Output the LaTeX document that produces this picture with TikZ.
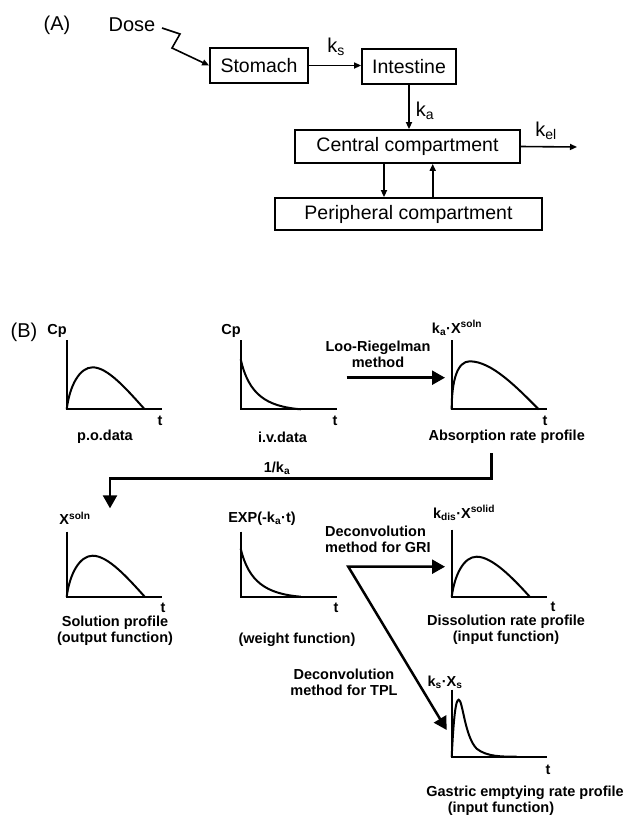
\documentclass[tikz,border=0pt]{standalone}
\usepackage{fontspec}
\setmainfont{Liberation Sans}
\usetikzlibrary{arrows.meta}
\begin{document}
\begin{tikzpicture}[x=1pt,y=-1pt,
  box/.style={draw,line width=1.8pt,inner sep=0pt,font=\fontsize{19.5}{22}\selectfont},
  alabel/.style={inner sep=0pt,font=\fontsize{20}{23}\selectfont},
  blabel/.style={inner sep=0pt,font=\fontsize{14.5}{17}\selectfont\bfseries,align=center},
  thinarrow/.style={line width=1.6pt,-{Triangle[length=7pt,width=6pt]}},
  axisline/.style={line width=2.2pt},
  curveline/.style={line width=2pt},
  bigarrow/.style={line width=2.5pt,-{Triangle[length=13pt,width=14pt]}}
]
\fill[white] (0,0) rectangle (627,815);
\useasboundingbox (0,0) rectangle (627,815);

% ---------------- (A) ----------------
\node[alabel] (labA) at (57,25) {(A)};
\node[alabel] (dose) at (132,25) {Dose};
\node[box,minimum width=98pt,minimum height=35pt] (stomach) at (259,65.5) {Stomach};
\node[box,minimum width=94pt,minimum height=35pt] (intestine) at (409,66.5) {Intestine};
\node[box,minimum width=225pt,minimum height=33pt] (central) at (407.5,146.5) {Central compartment};
\node[box,minimum width=267pt,minimum height=32pt] (periph) at (408.5,214) {Peripheral compartment};

\coordinate (z1) at (162,28);
\coordinate (z2) at (180,34);
\coordinate (z3) at (172,48);
\draw[thinarrow] (z1) -- (z2) -- (z3) -- (stomach.west);

\draw[thinarrow] (stomach.east) -- (stomach.east -| intestine.west);
\node[alabel] (ks) at (336,47) {k\textsubscript{s}};

\draw[thinarrow] (intestine.south) -- (intestine.south |- central.north);
\node[alabel] (ka) at (425,111) {k\textsubscript{a}};

\coordinate (kelend) at (577,147);
\draw[thinarrow] (central.east) -- (kelend);
\node[alabel] (kel) at (546,131) {k\textsubscript{el}};

\coordinate (cdown) at (384,0);
\coordinate (cup) at (432.7,0);
\draw[thinarrow] (cdown |- central.south) -- (cdown |- periph.north);
\draw[thinarrow] (cup |- periph.north) -- (cup |- central.south);

% ---------------- (B) ----------------
\node[alabel] (labB) at (24,332) {(B)};

% p.o. data
\begin{scope}[shift={(66.7,409.3)}]
  \draw[axisline] (0,-69) -- (0,0) -- (95,0);
  \draw[curveline] (0,0) .. controls (3,-24) and (13,-42) .. (26,-42)
                         .. controls (41,-42) and (60,-20) .. (78,0);
\end{scope}
\node[blabel] (cp1) at (57,331) {Cp};
\node[blabel] (t1) at (160,421) {t};
\node[blabel] (podata) at (105,437) {p.o.data};

% i.v. data
\begin{scope}[shift={(240.7,409.3)}]
  \draw[axisline] (0,-69) -- (0,0) -- (96,0);
  \draw[curveline] (0,-50) .. controls (8,-15) and (25,-3) .. (60,0);
\end{scope}
\node[blabel] (cp2) at (231,331) {Cp};
\node[blabel] (t2) at (335,421) {t};
\node[blabel] (ivdata) at (282.5,437) {i.v.data};

% Loo-Riegelman
\node[blabel] (loo) at (378,354) {Loo-Riegelman\\[-1pt]method};
\coordinate (looS) at (346.7,377.7);
\coordinate (looE) at (445,377.7);
\draw[bigarrow] (looS) -- (looE);

% absorption rate profile
\begin{scope}[shift={(451.7,409.3)}]
  \draw[axisline] (0,-69) -- (0,0) -- (95.6,0);
  \draw[curveline] (0,0) .. controls (0,-30) and (6,-48) .. (18,-48)
                         .. controls (40,-48) and (65,-22) .. (87,0);
\end{scope}
\node[blabel] (kaX) at (457,328) {k\textsubscript{a}·X\textsuperscript{soln}};
\node[blabel] (t3) at (545,421) {t};
\node[blabel] (absprof) at (506.7,437) {Absorption rate profile};

% 1/ka connector
\coordinate (absbot) at (491.7,453.3);
\coordinate (turnR) at (491.7,478.3);
\coordinate (turnL) at (110,478.3);
\coordinate (soltop) at (110,508.3);
\draw[bigarrow] (absbot) -- (turnR) -- (turnL) -- (soltop);
\node[blabel] (inv) at (277,468) {1/k\textsubscript{a}};

% solution profile
\begin{scope}[shift={(66.7,596.7)}]
  \draw[axisline] (0,-65) -- (0,0) -- (95,0);
  \draw[curveline] (0,0) .. controls (3,-23) and (13,-41) .. (26,-41)
                         .. controls (41,-41) and (60,-20) .. (78,0);
\end{scope}
\node[blabel] (xsoln) at (75,518) {X\textsuperscript{soln}};
\node[blabel] (t4) at (163,608) {t};
\node[blabel] (solprof) at (115,631) {Solution profile\\[-1pt](output function)};

% weight function
\begin{scope}[shift={(240.7,596.7)}]
  \draw[axisline] (0,-65) -- (0,0) -- (96,0);
  \draw[curveline] (0,-48) .. controls (8,-15) and (25,-3) .. (60,0);
\end{scope}
\node[blabel] (expl) at (262,519) {EXP(-k\textsubscript{a}·t)};
\node[blabel] (t5) at (336,608) {t};
\node[blabel] (weight) at (297,640) {(weight function)};

% deconvolution arrows
\node[blabel,align=left,anchor=west] (gri) at (325,539) {Deconvolution\\[-1pt]method for GRI};
\coordinate (dcorner) at (348.3,566.7);
\coordinate (griE) at (445,566.7);
\coordinate (tplE) at (446.7,730);
\draw[line width=2.5pt,line join=miter,{Triangle[length=13pt,width=14pt]}-{Triangle[length=13pt,width=14pt]}]
  (griE) -- (dcorner) -- (tplE);
\node[blabel] (tpl) at (344,682.5) {Deconvolution\\[-1pt]method for TPL};

% dissolution rate profile
\begin{scope}[shift={(451.7,596.7)}]
  \draw[axisline] (0,-67) -- (0,0) -- (95.6,0);
  \draw[curveline] (0,0) .. controls (3,-22) and (12,-40) .. (25,-40)
                         .. controls (40,-40) and (60,-20) .. (78,0);
\end{scope}
\node[blabel] (kdis) at (464,513) {k\textsubscript{dis}·X\textsuperscript{solid}};
\node[blabel] (t6) at (553,607) {t};
\node[blabel] (disprof) at (506,630) {Dissolution rate profile\\[-1pt](input function)};

% gastric emptying rate profile
\begin{scope}[shift={(451.7,756.7)}]
  \draw[axisline] (0,-67) -- (0,0) -- (95,0);
  \draw[curveline] (0,0) .. controls (2,-40) and (4,-57) .. (7,-57)
                         .. controls (11,-57) and (13,-20) .. (25,-8)
                         .. controls (35,0) and (50,0) .. (65,0);
\end{scope}
\node[blabel] (ksxs) at (445,682) {k\textsubscript{s}·X\textsubscript{s}};
\node[blabel] (t7) at (548,770) {t};
\node[blabel,anchor=east] (gasprof) at (624,793) {Gastric emptying rate profile};
\node[blabel] (gasin) at (501,809) {(input function)};
\end{tikzpicture}
\end{document}
